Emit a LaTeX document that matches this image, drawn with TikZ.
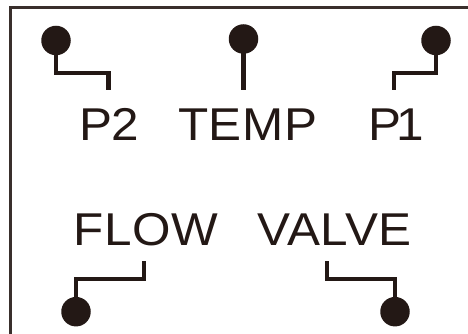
\documentclass[tikz,border=0pt]{standalone}
\usepackage{fontspec}
\setmainfont[FakeStretch=1.075,LetterSpace=1.5]{Liberation Sans}
\definecolor{ink}{HTML}{231815}
\tikzset{
  dot/.style={circle,fill=ink,draw=none,minimum size=29.5*0.75pt,inner sep=0pt},
  wire/.style={draw=ink,line width=3.2pt,line join=miter,line cap=butt},
  frameline/.style={draw=ink!90,line width=1.9pt},
  lbl/.style={text=ink,anchor=base west,inner sep=0pt,outer sep=0pt,font=\fontsize{34.5pt}{36pt}\selectfont}
}
\begin{document}
\begin{tikzpicture}[x=0.75pt,y=-0.75pt]
\useasboundingbox (0,0) rectangle (468,334);
\fill[white] (0,0) rectangle (468,334);
\coordinate (fa) at (10.5,334);
\coordinate (fb) at (10.5,7.5);
\coordinate (fc) at (468,7.5);
\draw[frameline] (fa) -- (fb) -- (fc);
% dots
\node[dot] (dP2) at (56,40.5) {};
\node[dot] (dT) at (243.5,39) {};
\node[dot] (dP1) at (436,40.5) {};
\node[dot] (dF) at (76,311.7) {};
\node[dot] (dV) at (395,311.7) {};
% bends and free ends
\coordinate (bP2a) at (56,73.3);
\coordinate (bP2b) at (108.5,73.3);
\coordinate (eP2) at (108.5,90.5);
\coordinate (eT) at (243.5,90.5);
\coordinate (bP1a) at (436,73.3);
\coordinate (bP1b) at (394.3,73.3);
\coordinate (eP1) at (394.3,90.5);
\coordinate (bFa) at (76,278.7);
\coordinate (bFb) at (143.7,278.7);
\coordinate (eF) at (143.7,261.5);
\coordinate (bVa) at (395,278.7);
\coordinate (bVb) at (327,278.7);
\coordinate (eV) at (327,261.5);
\draw[wire] (dP2.center) -- (bP2a) -- (bP2b) -- (eP2);
\draw[wire] (dT.center) -- (eT);
\draw[wire] (dP1.center) -- (bP1a) -- (bP1b) -- (eP1);
\draw[wire] (dF.center) -- (bFa) -- (bFb) -- (eF);
\draw[wire] (dV.center) -- (bVa) -- (bVb) -- (eV);
% labels
\node[lbl] (tP2) at (79.5,141) {P\kern-0.5pt 2};
\node[lbl] (tT) at (178,141) {TEMP};
\node[lbl] (tP1) at (368.5,141) {P\kern-4pt 1};
\node[lbl] (tF) at (73.5,246) {FLOW};
\node[lbl] (tV) at (257,246) {VALVE};
\end{tikzpicture}
\end{document}
